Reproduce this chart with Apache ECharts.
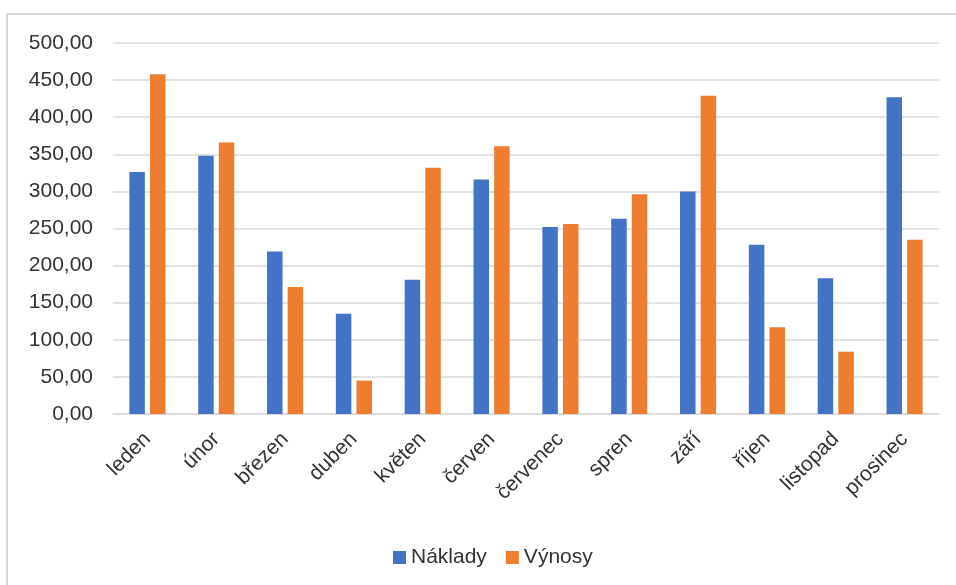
<!DOCTYPE html>
<html>
<head>
<meta charset="utf-8">
<script src="https://cdn.jsdelivr.net/npm/echarts@6/dist/echarts.min.js"></script>
<style>
  html, body { margin: 0; padding: 0; background: #fff; }
  #main { width: 956px; height: 585px; }
</style>
</head>
<body>
<div id="main"></div>
<script>
var months = ["leden", "únor", "březen", "duben", "květen", "červen",
  "červenec", "spren", "září", "říjen", "listopad", "prosinec"];
var naklady = [326, 348, 219, 135, 181, 316, 252, 263, 300, 228, 183, 427];
var vynosy = [458, 366, 171, 45, 332, 361, 256, 296, 429, 117, 84, 235];

var chart = echarts.init(document.getElementById("main"));
var font = "Liberation Sans";
var textColor = "#333333";

var option = {
  animation: false,
  backgroundColor: "#fff",
  textStyle: { fontFamily: font },
  // tenky ramecek kolem grafu
  graphic: [{
    type: "rect",
    shape: { x: 7, y: 14, width: 1000, height: 700 },
    style: { fill: "none", stroke: "#d9d9d9", lineWidth: 2 }
  }],
  grid: { left: 113, right: 17, top: 43, bottom: 171 },
  legend: {
    top: 542,
    left: 388,
    itemWidth: 13,
    itemHeight: 13,
    itemGap: 19,
    icon: "rect",
    textStyle: { fontSize: 21, color: textColor, fontFamily: font },
    data: ["Náklady", "Výnosy"]
  },
  xAxis: {
    type: "category",
    data: months,
    axisLine: { lineStyle: { color: "#d9d9d9", width: 1.5 } },
    axisTick: { show: false },
    axisLabel: {
      rotate: 45,
      interval: 0,
      fontSize: 21,
      color: textColor,
      margin: 22
    }
  },
  yAxis: {
    type: "value",
    min: 0,
    max: 500,
    interval: 50,
    axisLine: { show: false },
    axisTick: { show: false },
    splitLine: { lineStyle: { color: "#d9d9d9", width: 1.5 } },
    axisLabel: {
      fontSize: 21,
      color: textColor,
      margin: 20,
      formatter: function (v) { return v.toFixed(2).replace(".", ","); }
    }
  },
  series: [
    {
      name: "Náklady",
      type: "bar",
      data: naklady,
      barWidth: 15.5,
      barGap: "33%",
      itemStyle: { color: "#4472C4" }
    },
    {
      name: "Výnosy",
      type: "bar",
      data: vynosy,
      barWidth: 15.5,
      itemStyle: { color: "#ED7D31" }
    }
  ]
};
chart.setOption(option);
</script>
</body>
</html>
